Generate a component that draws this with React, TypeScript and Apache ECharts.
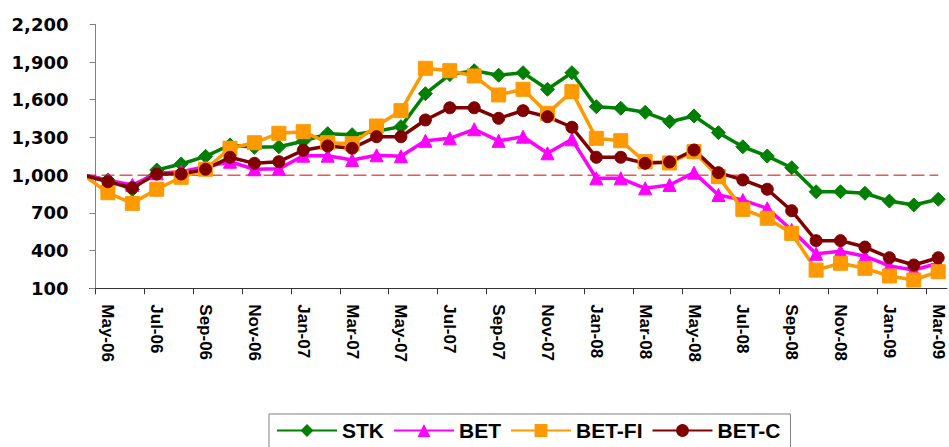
import React, { useEffect, useRef } from "react";
import * as echarts from "echarts";

const months = [
  "Apr-06", "May-06", "Jun-06", "Jul-06", "Aug-06", "Sep-06", "Oct-06", "Nov-06", "Dec-06",
  "Jan-07", "Feb-07", "Mar-07", "Apr-07", "May-07", "Jun-07", "Jul-07", "Aug-07", "Sep-07",
  "Oct-07", "Nov-07", "Dec-07", "Jan-08", "Feb-08", "Mar-08", "Apr-08", "May-08", "Jun-08",
  "Jul-08", "Aug-08", "Sep-08", "Oct-08", "Nov-08", "Dec-08", "Jan-09", "Feb-09", "Mar-09",
];

const stk = [
  1000, 962, 885, 1041, 1089, 1150, 1240, 1222, 1226, 1270, 1330, 1322,
  1350, 1386, 1648, 1800, 1831, 1795, 1815, 1683, 1815, 1545, 1532, 1500,
  1425, 1471, 1338, 1226, 1152, 1059, 868, 868, 856, 794, 763, 808,
];
const bet = [
  1000, 960, 922, 1015, 1028, 1067, 1107, 1047, 1050, 1155, 1155, 1120,
  1158, 1150, 1273, 1293, 1365, 1273, 1306, 1174, 1285, 975, 975, 895,
  922, 1020, 842, 802, 736, 564, 375, 395, 355, 278, 246, 299,
];
const betFi = [
  1000, 860, 776, 888, 983, 1047, 1214, 1258, 1333, 1346, 1258, 1250,
  1391, 1513, 1850, 1831, 1789, 1638, 1683, 1492, 1664, 1293, 1274, 1107,
  1097, 1187, 988, 728, 657, 537, 245, 299, 259, 198, 166, 232,
];
const betC = [
  1000, 948, 900, 1009, 1009, 1047, 1142, 1094, 1107, 1198, 1232, 1214,
  1306, 1306, 1439, 1536, 1536, 1452, 1513, 1465, 1381, 1142, 1142, 1094,
  1105, 1200, 1020, 962, 888, 717, 479, 479, 428, 343, 285, 343,
];

const seriesNames = ["STK", "BET", "BET-FI", "BET-C"];
const baseLevel = 1000;
const yMin = 100;
const yMax = 2200;
const yStep = 300;

// x coordinate of month i: i - 0.5 (y axis crosses between first and second month)
const toPoints = (arr: number[]) => arr.map((v, i) => [i - 0.5, v]);
const tickValues = months.slice(1).map((_, k) => k).filter((k) => k % 2 === 0);
const labelValues = tickValues.map((k) => k + 0.5);

export default function App() {
  const ref = useRef<HTMLDivElement>(null);
  useEffect(() => {
    if (!ref.current) return;
    const chart = echarts.init(ref.current, undefined, { renderer: "svg" });
    const lineW = 3.5;
    const mk = (name: string, data: number[], color: string, symbol: string, size: number) => ({
      name,
      type: "line",
      data: toPoints(data),
      symbol,
      symbolSize: size,
      clip: true,
      lineStyle: { color, width: lineW },
      itemStyle: { color, borderColor: color },
      z: 3,
    });
    chart.setOption({
      animation: false,
      backgroundColor: "#ffffff",
      grid: { left: 89.5, right: 2, top: 24.3, bottom: 158.7, containLabel: false },
      legend: {
        data: seriesNames,
        left: 269,
        top: 414,
        padding: [6, 10, 14, 7],
        itemGap: 9,
        itemWidth: 60,
        itemHeight: 16,
        borderColor: "#808080",
        borderWidth: 1,
        textStyle: { fontFamily: "Liberation Sans", fontWeight: "bold", fontSize: 21, color: "#000" },
      },
      xAxis: {
        type: "value",
        min: -0.254,
        max: 34.86,
        axisLine: { show: true, onZero: false, lineStyle: { color: "#333", width: 1 } },
        axisTick: { show: true, customValues: tickValues, length: 6, lineStyle: { color: "#333" } },
        axisLabel: {
          show: true,
          customValues: labelValues,
          rotate: -90,
          margin: 16,
          formatter: (v: number) => months[Math.round(v + 0.5)] ?? "",
          fontFamily: "Liberation Sans",
          fontWeight: "bold",
          fontSize: 17,
          color: "#000",
        },
        splitLine: { show: false },
      },
      yAxis: {
        type: "value",
        min: yMin,
        max: yMax,
        interval: yStep,
        axisLine: { show: true, onZero: true, lineStyle: { color: "#808080", width: 1 } },
        axisTick: { show: true, length: 6, lineStyle: { color: "#808080" } },
        axisLabel: {
          formatter: (v: number) => v.toLocaleString("en-US"),
          fontFamily: "DejaVu Sans",
          fontWeight: "bold",
          fontSize: 18,
          color: "#000",
          margin: 21,
        },
        splitLine: { show: false },
      },
      series: [
        {
          name: "base",
          type: "line",
          data: [
            [-0.5, baseLevel],
            [months.length - 1.5, baseLevel],
          ],
          symbol: "none",
          silent: true,
          clip: true,
          lineStyle: { color: "#E00000", width: 1, type: [13, 5] },
          z: 1,
        },
        mk("STK", stk, "#008000", "diamond", 14),
        mk("BET", bet, "#FF00FF", "triangle", 13),
        mk("BET-FI", betFi, "#FF9900", "rect", 14),
        mk("BET-C", betC, "#800000", "circle", 12),
      ],
    });
    return () => chart.dispose();
  }, []);
  return (
    <div
      ref={ref}
      style={{ position: "fixed", left: 0, top: 0, width: 949, height: 447 }}
    />
  );
}
